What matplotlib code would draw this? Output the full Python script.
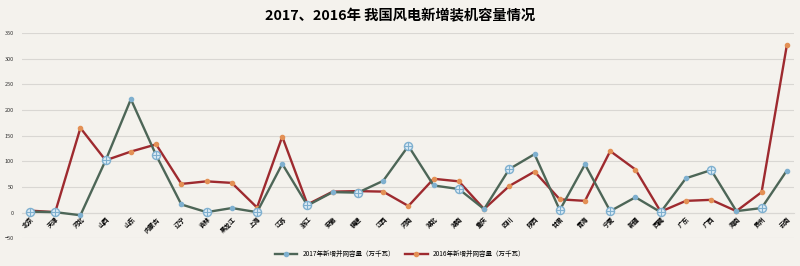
import numpy as np
import matplotlib.pyplot as plt

plt.rcParams['font.family'] = ['Noto Sans CJK SC', 'DejaVu Sans']

provinces = ['北京', '天津', '河北', '山西', '山东', '内蒙古', '辽宁', '吉林', '黑龙江', '上海',
             '江苏', '浙江', '安徽', '福建', '江西', '河南', '湖北', '湖南', '重庆', '四川',
             '陕西', '甘肃', '青海', '宁夏', '新疆', '西藏', '广东', '广西', '海南', '贵州', '云南']
cap_2017 = [2, 1, -5, 102, 221, 112, 16, 1, 9, 1,
            95, 14, 40, 39, 62, 130, 53, 46, 7, 85,
            114, 5, 94, 3, 30, 1, 67, 83, 3, 9, 82]
cap_2016 = [4, 1, 165, 102, 119, 133, 56, 61, 58, 10,
            148, 16, 41, 42, 41, 13, 66, 61, 7, 52,
            80, 26, 23, 120, 84, 2, 23, 25, 3, 40, 326]
# points drawn with the ringed marker in the original
ringed = [0, 1, 3, 5, 7, 9, 11, 13, 15, 17, 19, 21, 23, 25, 27, 29]

label_2017 = '2017年新增并网容量（万千瓦）'
label_2016 = '2016年新增并网容量（万千瓦）'
title = '2017、2016年 我国风电新增装机容量情况'

x = np.arange(len(provinces))

fig = plt.figure(figsize=(8, 2.66), dpi=100, facecolor='#f4f2ed')
ax = fig.add_axes([0.028, 0.104, 0.965, 0.772])
ax.set_facecolor('#f4f2ed')

ax.plot(x, cap_2016, color='#9e2a2f', lw=1.7, marker='o', ms=3,
        mfc='#e39055', mec='#e39055', label=label_2016, zorder=3)
ax.plot(x, cap_2017, color='#4d6657', lw=1.7, marker='o', ms=3,
        mfc='#7fb0cf', mec='#7fb0cf', label=label_2017, zorder=4)
rx = [x[i] for i in ringed]
ry = [cap_2017[i] for i in ringed]
ax.scatter(rx, ry, s=34, facecolor='#dcebf5', edgecolor='#7fb0cf', lw=1, zorder=5)
ax.scatter(rx, ry, s=34, marker='+', color='#7fb0cf', lw=0.8, zorder=6)

ax.set_xlim(-0.3, len(provinces) - 0.7)
ax.set_ylim(-50, 350)
ax.set_yticks(np.arange(-50, 351, 50))
ax.yaxis.grid(True, color='#d9d7d3', lw=0.8)
ax.set_axisbelow(True)
for s in ['top', 'right', 'left']:
    ax.spines[s].set_visible(False)
ax.spines['bottom'].set_position(('data', 0))
ax.spines['bottom'].set_color('#d9d7d3')
ax.tick_params(axis='y', length=0, labelsize=4, pad=6, labelcolor='#333333')
ax.tick_params(axis='x', length=0, pad=2)
ax.set_xticks(x)
ax.set_xticklabels(provinces, rotation=45, ha='right', rotation_mode='anchor',
                   fontsize=4.5, fontweight='bold')

fig.text(0.5, 0.94, title, ha='center', va='center', fontsize=10.3, fontweight='bold')

h, l = ax.get_legend_handles_labels()
fig.legend(h[::-1], l[::-1], loc='center', bbox_to_anchor=(0.5, 0.045), ncol=2,
           frameon=False, fontsize=4.7, handlelength=3.5, columnspacing=1.5)

fig.savefig('out.png', dpi=100, facecolor=fig.get_facecolor())
